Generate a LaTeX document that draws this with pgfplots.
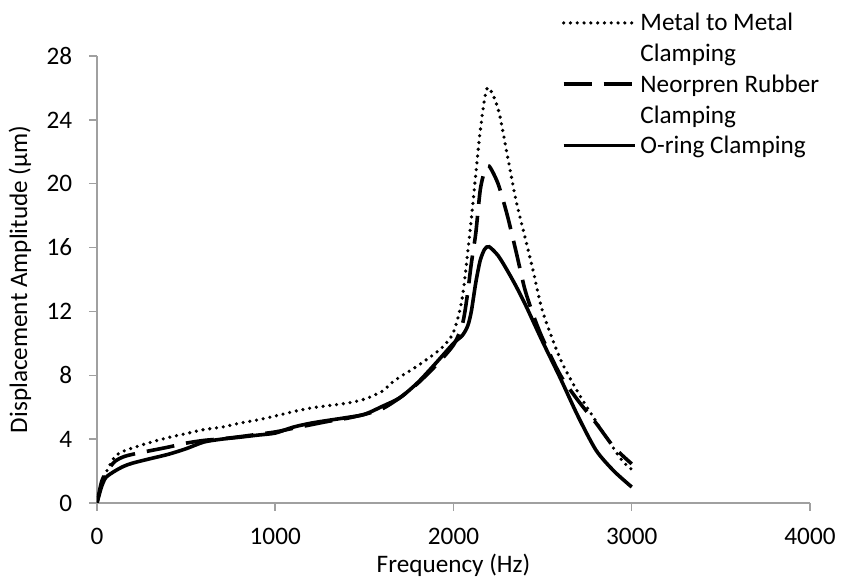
\documentclass[border=0pt]{standalone}
\usepackage{fontspec}
\setmainfont{Carlito}
\usepackage{pgfplots}
\pgfplotsset{compat=1.18}
\definecolor{axgray}{RGB}{160,160,160}
\pgfplotsset{
    oneline legend/.style={legend image code/.code={\draw[##1] (0pt,4pt) -- (35.5pt,4pt);}},
    twoline legend/.style={legend image code/.code={\draw[##1] (0pt,19.5pt) -- (35.5pt,19.5pt);}},
}

\begin{document}
\fontsize{12.6}{15.5}\selectfont
\begin{tikzpicture}
\path[use as bounding box] (-48.5pt,-39.5pt) rectangle (372pt,251.5pt);
\begin{axis}[
    scale only axis,
    width=356.5pt, height=223.5pt,
    xmin=0, xmax=4000, ymin=0, ymax=28,
    xtick={0,1000,2000,3000,4000},
    ytick={0,4,...,28},
    axis lines=left,
    axis line style={-, draw=axgray, line width=0.75pt},
    tick style={draw=axgray, line width=0.75pt},
    major tick length=4pt,
    tick align=outside,
    /pgf/number format/assume math mode=true,
    /pgf/number format/1000 sep={},
    xticklabel style={yshift=-4pt},
    yticklabel style={xshift=-4pt},
    xlabel={Frequency (Hz)},
    ylabel={Displacement Amplitude (µm)},
    xlabel style={at={(axis description cs:0.5,-0.139)}, anchor=center},
    ylabel style={at={(axis description cs:-0.108,0.5)}, anchor=center},
    legend style={at={(axis description cs:0.643,1.114)}, anchor=north west,
        draw=none, fill=none, row sep=0.5pt,
        nodes={align=left, inner sep=2pt},
        cells={anchor=base west}},
]

% Metal to Metal Clamping
\addplot[black, no markers, line width=1.8pt, smooth, tension=0.45,
    dash pattern=on 0pt off 3.4pt, line cap=round, twoline legend]
    coordinates {
    (0,0) (25,1.2) (50,1.9) (100,2.9) (150,3.25) (200,3.45) (300,3.8)
    (400,4.1) (500,4.35) (600,4.6) (700,4.75) (800,5.0) (900,5.2)
    (1000,5.45) (1100,5.72) (1200,5.95) (1300,6.1) (1400,6.25) (1500,6.5)
    (1600,7.0) (1650,7.5) (1700,7.9) (1800,8.6) (1900,9.4) (1950,9.9)
    (2000,10.7) (2050,12.9) (2100,17.8) (2150,23.3) (2190,26.0) (2250,24.7)
    (2300,21.9) (2350,19.0) (2400,16.7) (2450,14.4) (2500,12.0) (2600,9.0)
    (2700,6.9) (2800,5.1) (2900,3.4) (2950,2.6) (3000,2.1)
};
\addlegendentry{Metal to Metal\\Clamping}

% Neorpren Rubber Clamping
\addplot[black, no markers, line width=1.8pt, smooth, tension=0.45,
    dash pattern=on 14pt off 6pt, twoline legend]
    coordinates {
    (0,0) (25,1.3) (50,1.9) (100,2.6) (150,2.9) (200,3.05) (300,3.28)
    (400,3.5) (500,3.75) (600,3.92) (700,4.02) (800,4.15) (900,4.3)
    (1000,4.45) (1100,4.68) (1200,4.9) (1300,5.12) (1400,5.3) (1500,5.55)
    (1600,5.9) (1700,6.6) (1800,7.5) (1900,8.6) (2000,9.9) (2050,11.2)
    (2075,12.8) (2100,15.0) (2125,16.9) (2150,19.6) (2175,20.8) (2200,21.1)
    (2250,20.0) (2300,18.1) (2350,15.8) (2400,13.4) (2450,11.7) (2500,10.3)
    (2600,8.0) (2700,6.4) (2800,5.0) (2900,3.5) (3000,2.45)
};
\addlegendentry{Neorpren Rubber\\Clamping}

% O-ring Clamping
\addplot[black, solid, no markers, line width=1.8pt, smooth, tension=0.45,
    oneline legend]
    coordinates {
    (0,0) (25,1.0) (50,1.6) (100,2.0) (150,2.3) (200,2.5) (300,2.78)
    (400,3.05) (500,3.4) (600,3.82) (700,4.0) (800,4.12) (900,4.25)
    (1000,4.38) (1100,4.75) (1200,5.0) (1300,5.18) (1400,5.35) (1500,5.55)
    (1600,6.05) (1700,6.6) (1800,7.55) (1900,8.75) (2000,10.0) (2050,10.5)
    (2080,11.1) (2100,12.0) (2125,13.8) (2150,15.2) (2175,15.9) (2200,16.05)
    (2250,15.5) (2300,14.6) (2350,13.6) (2400,12.5) (2450,11.3) (2500,10.1)
    (2600,7.8) (2700,5.4) (2800,3.3) (2900,2.0) (3000,1.0)
};
\addlegendentry{O-ring Clamping}

\end{axis}
\end{tikzpicture}
\end{document}
